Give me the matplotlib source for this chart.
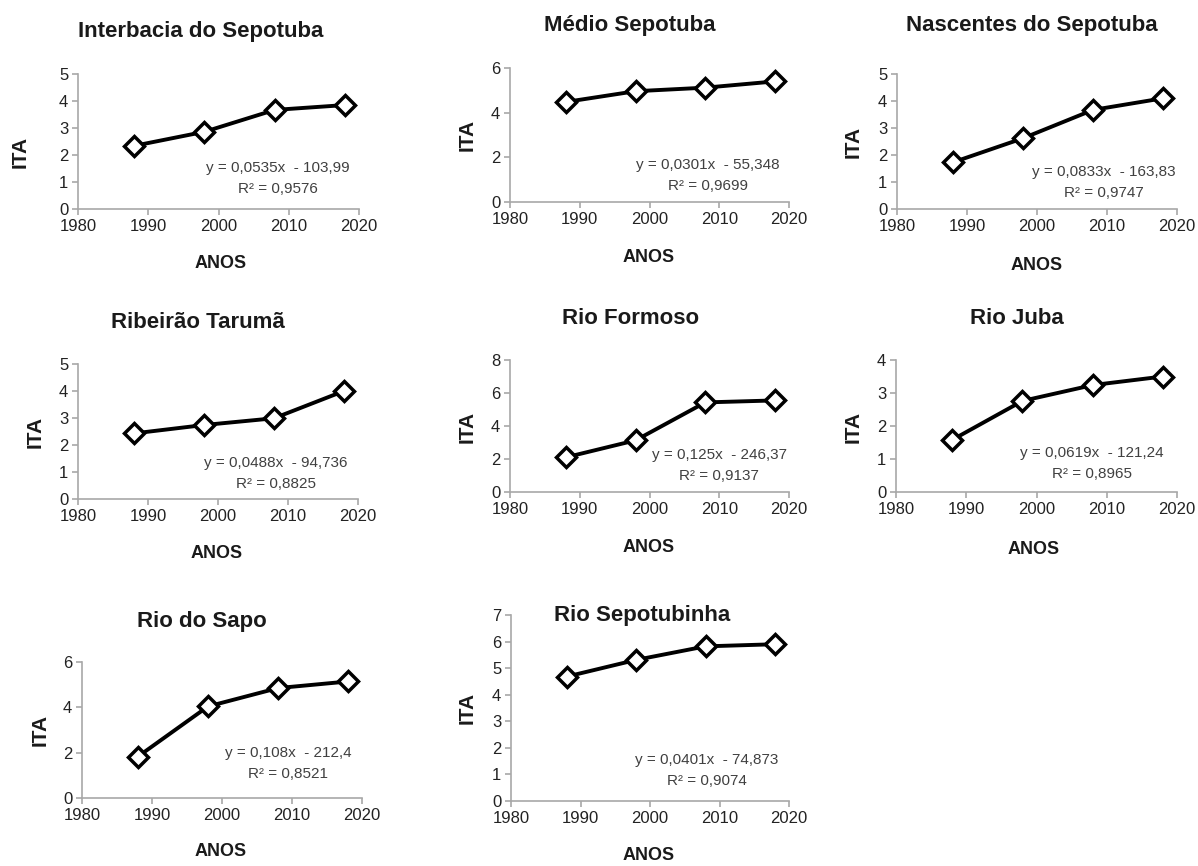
import numpy as np
import matplotlib
matplotlib.use("Agg")
import matplotlib.pyplot as plt
from matplotlib import font_manager

plt.rcParams["font.family"] = ["Liberation Sans", "DejaVu Sans"]

anos = [1988, 1998, 2008, 2018]

titulos = ["Interbacia do Sepotuba", "Médio Sepotuba", "Nascentes do Sepotuba",
           "Ribeirão Tarumã", "Rio Formoso", "Rio Juba",
           "Rio do Sapo", "Rio Sepotubinha"]

ita_interbacia = [2.34, 2.86, 3.67, 3.85]
ita_medio = [4.48, 4.96, 5.12, 5.40]
ita_nascentes = [1.73, 2.62, 3.67, 4.10]
ita_ribeirao = [2.43, 2.74, 2.99, 4.00]
ita_formoso = [2.10, 3.13, 5.43, 5.55]
ita_juba = [1.58, 2.76, 3.24, 3.50]
ita_sapo = [1.83, 4.04, 4.85, 5.14]
ita_sepotubinha = [4.68, 5.31, 5.82, 5.90]

series = [ita_interbacia, ita_medio, ita_nascentes, ita_ribeirao,
          ita_formoso, ita_juba, ita_sapo, ita_sepotubinha]

equacoes = ["y = 0,0535x  - 103,99", "y = 0,0301x  - 55,348", "y = 0,0833x  - 163,83",
            "y = 0,0488x  - 94,736", "y = 0,125x  - 246,37", "y = 0,0619x  - 121,24",
            "y = 0,108x  - 212,4", "y = 0,0401x  - 74,873"]
r2 = ["R² = 0,9576", "R² = 0,9699", "R² = 0,9747",
      "R² = 0,8825", "R² = 0,9137", "R² = 0,8965",
      "R² = 0,8521", "R² = 0,9074"]

ymax = [5, 6, 5, 5, 8, 4, 6, 7]
ystep = [1, 2, 1, 1, 2, 1, 2, 1]

W, H = 1198, 866

# axes boxes in pixels: left, right, top, bottom
caixas = [(78, 359, 74, 209), (510, 789, 68, 202), (897, 1177, 74, 209),
          (78, 358, 364, 499), (510, 789, 360, 492), (896, 1177, 360, 492),
          (82, 362, 662, 798), (511, 789, 615, 801)]
pos_titulo = [(201, 32), (630, 26), (1032, 25), (198, 322), (631, 318),
              (1017, 318), (202, 621), (642, 616)]
pos_ita = [(20, 152), (467, 135), (853, 142), (35, 432), (467, 427),
           (853, 427), (40, 730), (467, 708)]
pos_anos = [(221, 263), (649, 257), (1037, 265), (217, 553), (649, 548),
            (1034, 550), (221, 852), (649, 856)]
pos_eq = [(278, 168), (708, 165), (1104, 172), (276, 463), (719, 455),
          (1092, 453), (288, 753), (707, 760)]

# narrow face for the vertically stretched look of the original, if present
nomes = {f.name for f in font_manager.fontManager.ttflist}
if "Liberation Sans Narrow" in nomes:
    estreita = ["Liberation Sans Narrow", "Liberation Sans"]
    k = 1.0 / 0.82
else:
    estreita = ["Liberation Sans", "DejaVu Sans"]
    k = 1.0


def fx(x):
    return x / W


def fy(y):
    return 1 - y / H


fig = plt.figure(figsize=(W / 100, H / 100), dpi=100)

for i in range(len(series)):
    l, r, t, b = caixas[i]
    ax = fig.add_axes([fx(l), fy(b), (r - l) / W, (b - t) / H])
    ax.plot(anos, series[i], color="black", lw=2.8, marker="D", ms=10,
            mfc="white", mec="black", mew=2.5, zorder=3, clip_on=False)
    ax.set_xlim(1980, 2020)
    ax.set_ylim(0, ymax[i])
    ax.set_xticks([1980, 1990, 2000, 2010, 2020])
    ax.set_yticks(np.arange(0, ymax[i] + 1, ystep[i]))
    for s in ["top", "right"]:
        ax.spines[s].set_visible(False)
    for s in ["left", "bottom"]:
        ax.spines[s].set_color("#a8a8a8")
        ax.spines[s].set_linewidth(1.2)
    ax.tick_params(colors="#a8a8a8", labelcolor="#222222",
                   length=4, width=1.2, pad=3)
    for lab in ax.get_xticklabels() + ax.get_yticklabels():
        lab.set_family(estreita)
        lab.set_fontsize(12 * k)
    ax.patch.set_alpha(0)

    fig.text(fx(pos_titulo[i][0]), fy(pos_titulo[i][1]), titulos[i],
             ha="center", va="center", fontsize=16, fontweight="bold", color="#1a1a1a")
    fig.text(fx(pos_ita[i][0]), fy(pos_ita[i][1]), "ITA", rotation=90,
             ha="center", va="center", fontsize=15, fontweight="bold", color="#1a1a1a")
    fig.text(fx(pos_anos[i][0]), fy(pos_anos[i][1]), "ANOS", family=estreita,
             ha="center", va="center", fontsize=13 * k, fontweight="bold", color="#1a1a1a")
    ex, ey = pos_eq[i]
    fig.text(fx(ex), fy(ey), equacoes[i], ha="center", va="center", family=estreita,
             fontsize=11 * k, color="#404040")
    fig.text(fx(ex), fy(ey + 21), r2[i], ha="center", va="center", family=estreita,
             fontsize=11 * k, color="#404040")

fig.savefig("out.png", dpi=100)
